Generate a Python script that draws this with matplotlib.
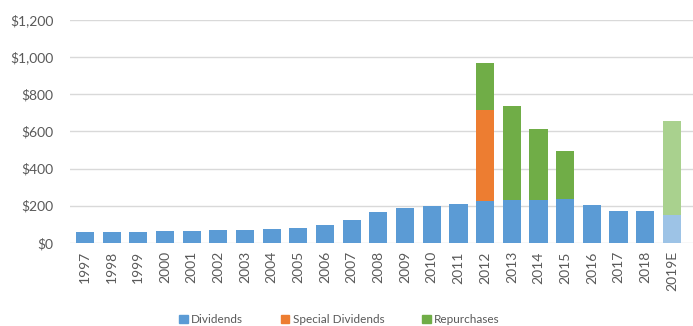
import numpy as np
from matplotlib import pyplot as plt

years = ['1997', '1998', '1999', '2000', '2001', '2002', '2003', '2004', '2005', '2006',
         '2007', '2008', '2009', '2010', '2011', '2012', '2013', '2014', '2015', '2016',
         '2017', '2018', '2019E']
dividends = [60, 60, 60, 63, 64, 67, 70, 74, 80, 96,
             124, 164, 190, 197, 210, 223, 232, 232, 238, 202,
             170, 170, 151]
special = [0] * 15 + [490] + [0] * 7
repurchases = [0] * 15 + [255, 505, 379, 256, 0, 0, 0, 505]

blue, light_blue = '#5B9BD5', '#9DC3E6'
orange = '#ED7D31'
green, light_green = '#70AD47', '#A9D18E'

plt.rcParams['font.family'] = ['Lato', 'DejaVu Sans']
fig = plt.figure(figsize=(6.93, 3.26), dpi=100)
ax = fig.add_axes([0.101, 0.255, 0.899, 0.684])

x = np.arange(len(years))
div_colors = [blue] * (len(years) - 1) + [light_blue]
rep_colors = [green] * (len(years) - 1) + [light_green]
w = 0.68
ax.bar(x, dividends, w, color=div_colors, zorder=3)
ax.bar(x, special, w, bottom=dividends, color=orange, zorder=3)
bottom2 = [d + s for d, s in zip(dividends, special)]
ax.bar(x, repurchases, w, bottom=bottom2, color=rep_colors, zorder=3)

ax.set_ylim(0, 1200)
ax.set_xlim(-0.56, len(years) - 1 + 0.79)
ax.set_yticks(range(0, 1201, 200))
ax.set_yticklabels(['${:,}'.format(v) for v in range(0, 1201, 200)], color='#595959', fontsize=10)
ax.set_xticks(x)
ax.set_xticklabels(years, rotation=90, color='#595959', fontsize=10)
ax.tick_params(axis='y', length=0, pad=12)
ax.tick_params(axis='x', length=0, pad=6)
ax.grid(axis='y', color='#D9D9D9', lw=1, zorder=0)
for s in ax.spines.values():
    s.set_visible(False)

handles = [plt.Rectangle((0, 0), 1, 1, color=c) for c in (blue, orange, green)]
fig.legend(handles, ['Dividends', 'Special Dividends', 'Repurchases'], loc='lower center',
           bbox_to_anchor=(0.49, -0.03), ncol=3, frameon=False, fontsize=8.5,
           handlelength=0.7, handleheight=0.7, handletextpad=0.3, columnspacing=3.2,
           labelcolor='#595959')

fig.savefig('out.png', dpi=100)
